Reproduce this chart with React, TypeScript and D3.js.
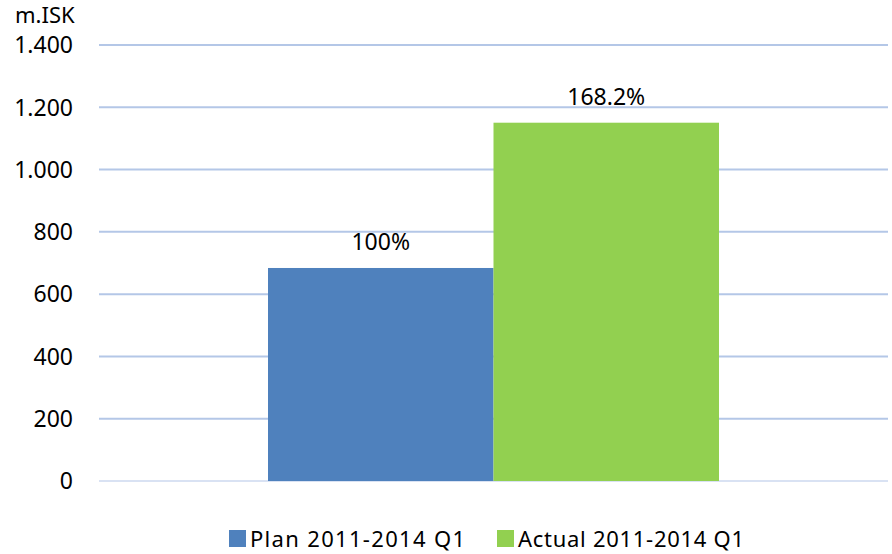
import React from "react";
import * as d3 from "d3";

// chart values
const categories = ["Plan 2011-2014 Q1", "Actual 2011-2014 Q1"];
const values = [684, 1150.5];
const barLabels = ["100%", "168.2%"];
const colors = ["#4f81bd", "#92d050"];
const yTicks = [0, 200, 400, 600, 800, 1000, 1200, 1400];
const tickLabels = ["0", "200", "400", "600", "800", "1.000", "1.200", "1.400"];
const unitLabel = "m.ISK";

const W = 892;
const H = 554;
const FONT = "'Noto Sans', 'Open Sans', sans-serif";

export default function App() {
  const y = d3.scaleLinear().domain([0, 1400]).range([481, 45]);
  // one category group, two bars side by side
  const x = d3.scaleBand<string>().domain(categories).range([268, 719]).padding(0);

  return (
    <div style={{ position: "fixed", left: 0, top: 0 }}>
      <svg width={W} height={H} style={{ display: "block", background: "#fff" }} fontFamily={FONT}>
        <text x={15} y={23} fontSize={22} fill="#000">{unitLabel}</text>

        {/* gridlines + tick labels */}
        {yTicks.map((t, i) => (
          <g key={t}>
            <line
              x1={99}
              x2={888}
              y1={y(t)}
              y2={y(t)}
              stroke={t === 0 ? "#d9e2f3" : "#b4c7e7"}
              strokeWidth={2}
            />
            <text
              x={73}
              y={y(t)}
              dy="0.36em"
              textAnchor="end"
              fontSize={23}
              fill="#000"
            >
              {tickLabels[i]}
            </text>
          </g>
        ))}

        {/* bars */}
        {categories.map((c, i) => (
          <g key={c}>
            <rect
              x={x(c)}
              y={y(values[i])}
              width={x.bandwidth()}
              height={y(0) - y(values[i])}
              fill={colors[i]}
            />
            <text
              x={(x(c) as number) + x.bandwidth() / 2}
              y={y(values[i]) - 18}
              textAnchor="middle"
              fontSize={23}
              fill="#000"
            >
              {barLabels[i]}
            </text>
          </g>
        ))}

        {/* legend */}
        <g>
          <rect x={229} y={530} width={17} height={17} fill={colors[0]} />
          <text x={250} y={547} fontSize={22} fill="#000" textLength={215}>{categories[0]}</text>
          <rect x={497} y={530} width={17} height={17} fill={colors[1]} />
          <text x={518} y={547} fontSize={22} fill="#000" textLength={226}>{categories[1]}</text>
        </g>
      </svg>
    </div>
  );
}
